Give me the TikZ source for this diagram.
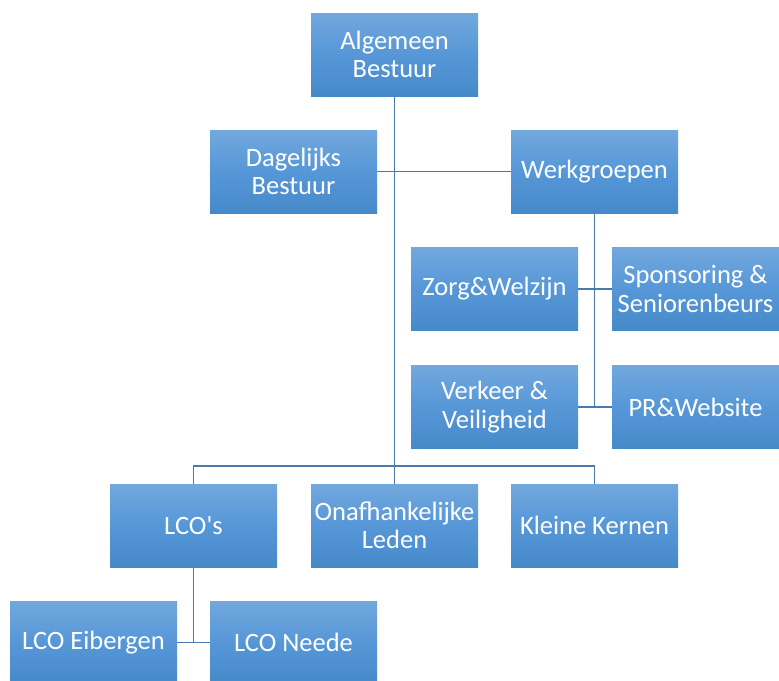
\documentclass[tikz,border=0pt]{standalone}
\usepackage{fontspec}
\setmainfont{Carlito}
\definecolor{boxtop}{RGB}{114,168,221}
\definecolor{boxmid}{RGB}{86,151,216}
\definecolor{boxbot}{RGB}{70,137,201}
\definecolor{linkcol}{RGB}{72,122,172}
\tikzset{
  orgbox/.style={rectangle, minimum width=167pt, minimum height=83pt, inner sep=1pt,
    top color=boxtop, bottom color=boxbot, middle color=boxmid,
    text=white, align=center, font=\fontsize{26.5}{28.5}\selectfont},
  link/.style={draw=linkcol, line width=1.5pt}
}
\begin{document}
\begin{tikzpicture}[x=1pt,y=-1pt]
\useasboundingbox (0,0) rectangle (779,680);
\node[orgbox] (AB) at (394.5,54.5) {Algemeen\\Bestuur};
\node[orgbox] (DB) at (293.5,171.5) {Dagelijks\\Bestuur};
\node[orgbox] (WG) at (594.5,171.5) {Werkgroepen};
\node[orgbox] (ZW) at (494.5,289) {Zorg\&Welzijn};
\node[orgbox] (SP) at (695.5,289) {Sponsoring \&\\Seniorenbeurs};
\node[orgbox] (VV) at (494.5,407) {Verkeer \&\\Veiligheid};
\node[orgbox] (PR) at (695.5,407) {PR\&Website};
\node[orgbox] (LCO) at (193.5,525.5) {LCO\textquotesingle s};
\node[orgbox] (OL) at (394.5,525.5) {Onafhankelijke\\Leden};
\node[orgbox] (KK) at (594.5,525.5) {Kleine Kernen};
\node[orgbox] (LE) at (93.5,642.5) {LCO Eibergen};
\node[orgbox] (LN) at (293.5,642.5) {LCO Neede};
\coordinate (bus) at (394.5,466);
\draw[link] (AB.south) -- (OL.north);
\draw[link] (DB.east) -- (WG.west);
\draw[link] (LCO.north) -- (LCO.north |- bus) -| (KK.north);
\draw[link] (WG.south) -- (WG.south |- PR.west);
\draw[link] (ZW.east) -- (SP.west);
\draw[link] (VV.east) -- (PR.west);
\draw[link] (LCO.south) -- (LCO.south |- LN.west);
\draw[link] (LE.east) -- (LN.west);
\end{tikzpicture}
\end{document}
